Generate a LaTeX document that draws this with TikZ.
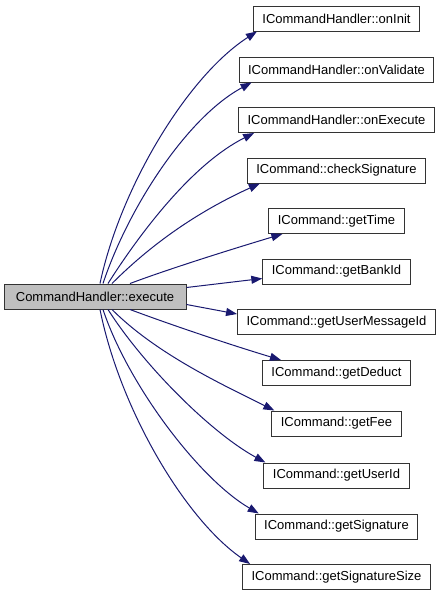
\documentclass[tikz,border=0pt]{standalone}
\usepackage{fontspec}
\setmainfont{Liberation Sans}
\usetikzlibrary{arrows.meta}
\definecolor{edgeblue}{RGB}{25,25,112}

\begin{document}
\begin{tikzpicture}[x=1pt,y=-1pt]
    \tikzset{func/.style = {shape=rectangle,draw=black!80,line width=1pt,minimum height=25pt,inner xsep=9pt,inner ysep=0pt,font=\fontsize{13}{15}\selectfont}}
    \tikzset{root/.style = {func,fill=black!25,minimum width=182pt}}
    \tikzset{edge/.style = {->,> = {Triangle[length=11pt,width=8pt]},draw=edgeblue,line width=1pt}}

    \useasboundingbox (0,0) rectangle (444,595);

    % vertices

    \node[root] (ex) at (95,296.5) {CommandHandler::execute};

    \node[func] (init) at (336.5,18.5) {ICommandHandler::onInit};
    \node[func] (valid) at (336.5,69.5) {ICommandHandler::onValidate};
    \node[func] (exec) at (336.5,120) {ICommandHandler::onExecute};
    \node[func] (check) at (336.5,170.5) {ICommand::checkSignature};
    \node[func] (time) at (336.5,221) {ICommand::getTime};
    \node[func] (bank) at (336.5,271.5) {ICommand::getBankId};
    \node[func] (umsg) at (336.5,322) {ICommand::getUserMessageId};
    \node[func] (deduct) at (336.5,373) {ICommand::getDeduct};
    \node[func] (fee) at (336.5,423.5) {ICommand::getFee};
    \node[func] (user) at (336.5,475.5) {ICommand::getUserId};
    \node[func] (sig) at (336.5,526.5) {ICommand::getSignature};
    \node[func] (sigsize) at (336.5,577) {ICommand::getSignatureSize};

    % edges

    \draw[edge] ([xshift=5pt]ex.north) .. controls +(20,-95) and +(-70,45) .. ([xshift=4pt]init.south west);
    \draw[edge] ([xshift=8pt]ex.north) .. controls +(25,-75) and +(-65,35) .. ([xshift=13pt]valid.south west);
    \draw[edge] ([xshift=13pt]ex.north) .. controls +(35,-55) and +(-60,30) .. ([xshift=16pt]exec.south west);
    \draw[edge] ([xshift=17pt]ex.north) .. controls +(45,-45) and +(-55,25) .. ([xshift=13pt]check.south west);
    \draw[edge] ([xshift=35pt]ex.north) .. controls +(40,-15) and +(-50,15) .. ([xshift=14pt]time.south west);
    \draw[edge] ([yshift=9pt]ex.east) -- ([yshift=-7pt]bank.west);
    \draw[edge] ([yshift=-8pt]ex.east) -- ([yshift=8pt]umsg.west);
    \draw[edge] ([xshift=35pt]ex.south) .. controls +(40,15) and +(-50,-15) .. ([xshift=19pt]deduct.north west);
    \draw[edge] ([xshift=17pt]ex.south) .. controls +(45,45) and +(-50,-25) .. ([xshift=3pt]fee.north west);
    \draw[edge] ([xshift=13pt]ex.south) .. controls +(35,55) and +(-55,-30) .. ([xshift=2pt]user.north west);
    \draw[edge] ([xshift=8pt]ex.south) .. controls +(25,75) and +(-60,-35) .. ([xshift=4pt]sig.north west);
    \draw[edge] ([xshift=5pt]ex.south) .. controls +(20,100) and +(-65,-45) .. ([xshift=8pt]sigsize.north west);
\end{tikzpicture}
\end{document}
